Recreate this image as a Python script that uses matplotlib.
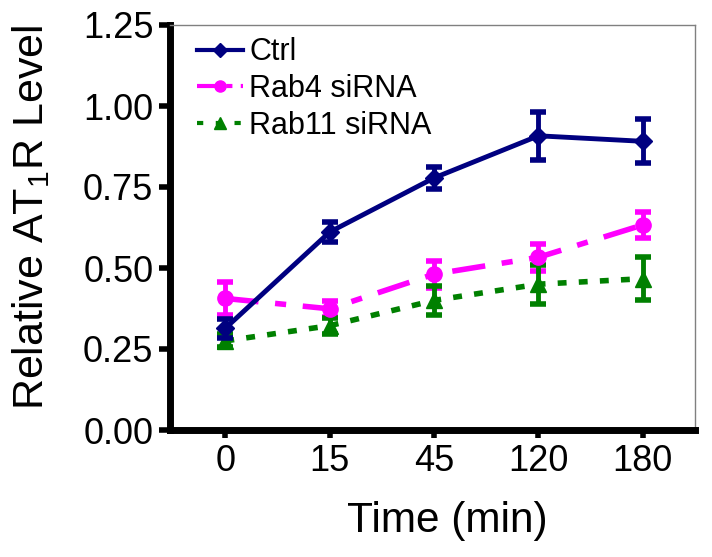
import matplotlib
matplotlib.use("Agg")
import matplotlib.pyplot as plt
from matplotlib.lines import Line2D
import numpy as np

times = ["0", "15", "45", "120", "180"]
ctrl = [0.314, 0.611, 0.778, 0.908, 0.891]
ctrl_err = [0.03, 0.03, 0.035, 0.075, 0.068]
rab4 = [0.406, 0.374, 0.481, 0.533, 0.633]
rab4_err = [0.05, 0.025, 0.042, 0.041, 0.041]
rab11 = [0.275, 0.322, 0.40, 0.45, 0.467]
rab11_err = [0.02, 0.025, 0.044, 0.06, 0.067]
yticks = [0.00, 0.25, 0.50, 0.75, 1.00, 1.25]

plt.rcParams['font.family'] = ['Liberation Sans', 'DejaVu Sans']

fig = plt.figure(figsize=(7.12, 5.57), dpi=100)
ax = fig.add_axes([170/712, 1-430/557, (695-170)/712, (430-25)/557])
x = np.arange(len(times))

c_ctrl, c_r4, c_r11 = '#000080', '#FF00FF', '#008000'
d_r4 = (6, 3, 2, 3)
d_r11 = (1.6, 2.2)

ax.errorbar(x, ctrl, yerr=ctrl_err, color=c_ctrl, lw=3.5, marker='D', ms=9,
            capsize=6, capthick=4, elinewidth=3.5, zorder=3)
ax.errorbar(x, rab4, yerr=rab4_err, color=c_r4, lw=4, marker='o', ms=11,
            dashes=d_r4, capsize=6, capthick=4, elinewidth=3.5, zorder=2)
ax.errorbar(x, rab11, yerr=rab11_err, color=c_r11, lw=4, marker='^', ms=11,
            dashes=d_r11, capsize=6, capthick=4, elinewidth=3.5, zorder=2)

ax.set_xlim(-0.53, 4.5)
ax.set_ylim(0, 1.25)
ax.set_xticks(x)
ax.set_xticklabels(times, fontsize=26)
ax.set_yticks(yticks)
ax.set_yticklabels([f"{v:.2f}" for v in yticks], fontsize=26)
ax.tick_params(axis='both', direction='out', width=4, length=6, color='black', pad=4)
ax.tick_params(axis='y', length=8)

for s in ['left', 'bottom']:
    ax.spines[s].set_linewidth(5)
    ax.spines[s].set_color('black')
for s in ['top', 'right']:
    ax.spines[s].set_linewidth(1)
    ax.spines[s].set_color('#808080')

ax.set_xlabel("Time (min)", fontsize=30.5)
ax.xaxis.set_label_coords(0.528, -0.175)
ax.set_ylabel("Relative AT$_{\\mathregular{1}}$R Level", fontsize=31)
ax.yaxis.set_label_coords(-0.225, 0.525)

handles = [
    Line2D([], [], color=c_ctrl, lw=3, marker='D', ms=7),
    Line2D([], [], color=c_r4, lw=3, marker='o', ms=8, dashes=(5, 2, 1.5, 2)),
    Line2D([], [], color=c_r11, lw=3, marker='^', ms=8, dashes=(1.5, 3)),
]
labels = ['Ctrl', 'Rab4 siRNA', 'Rab11 siRNA']
leg = ax.legend(handles, labels, loc='upper left', frameon=False, fontsize=22,
                handlelength=1.5, handletextpad=0.2, labelspacing=0.22,
                borderaxespad=0.2, borderpad=0.3,
                bbox_to_anchor=(12/525, 1 + 3/405))

fig.savefig("out.png", dpi=100)
